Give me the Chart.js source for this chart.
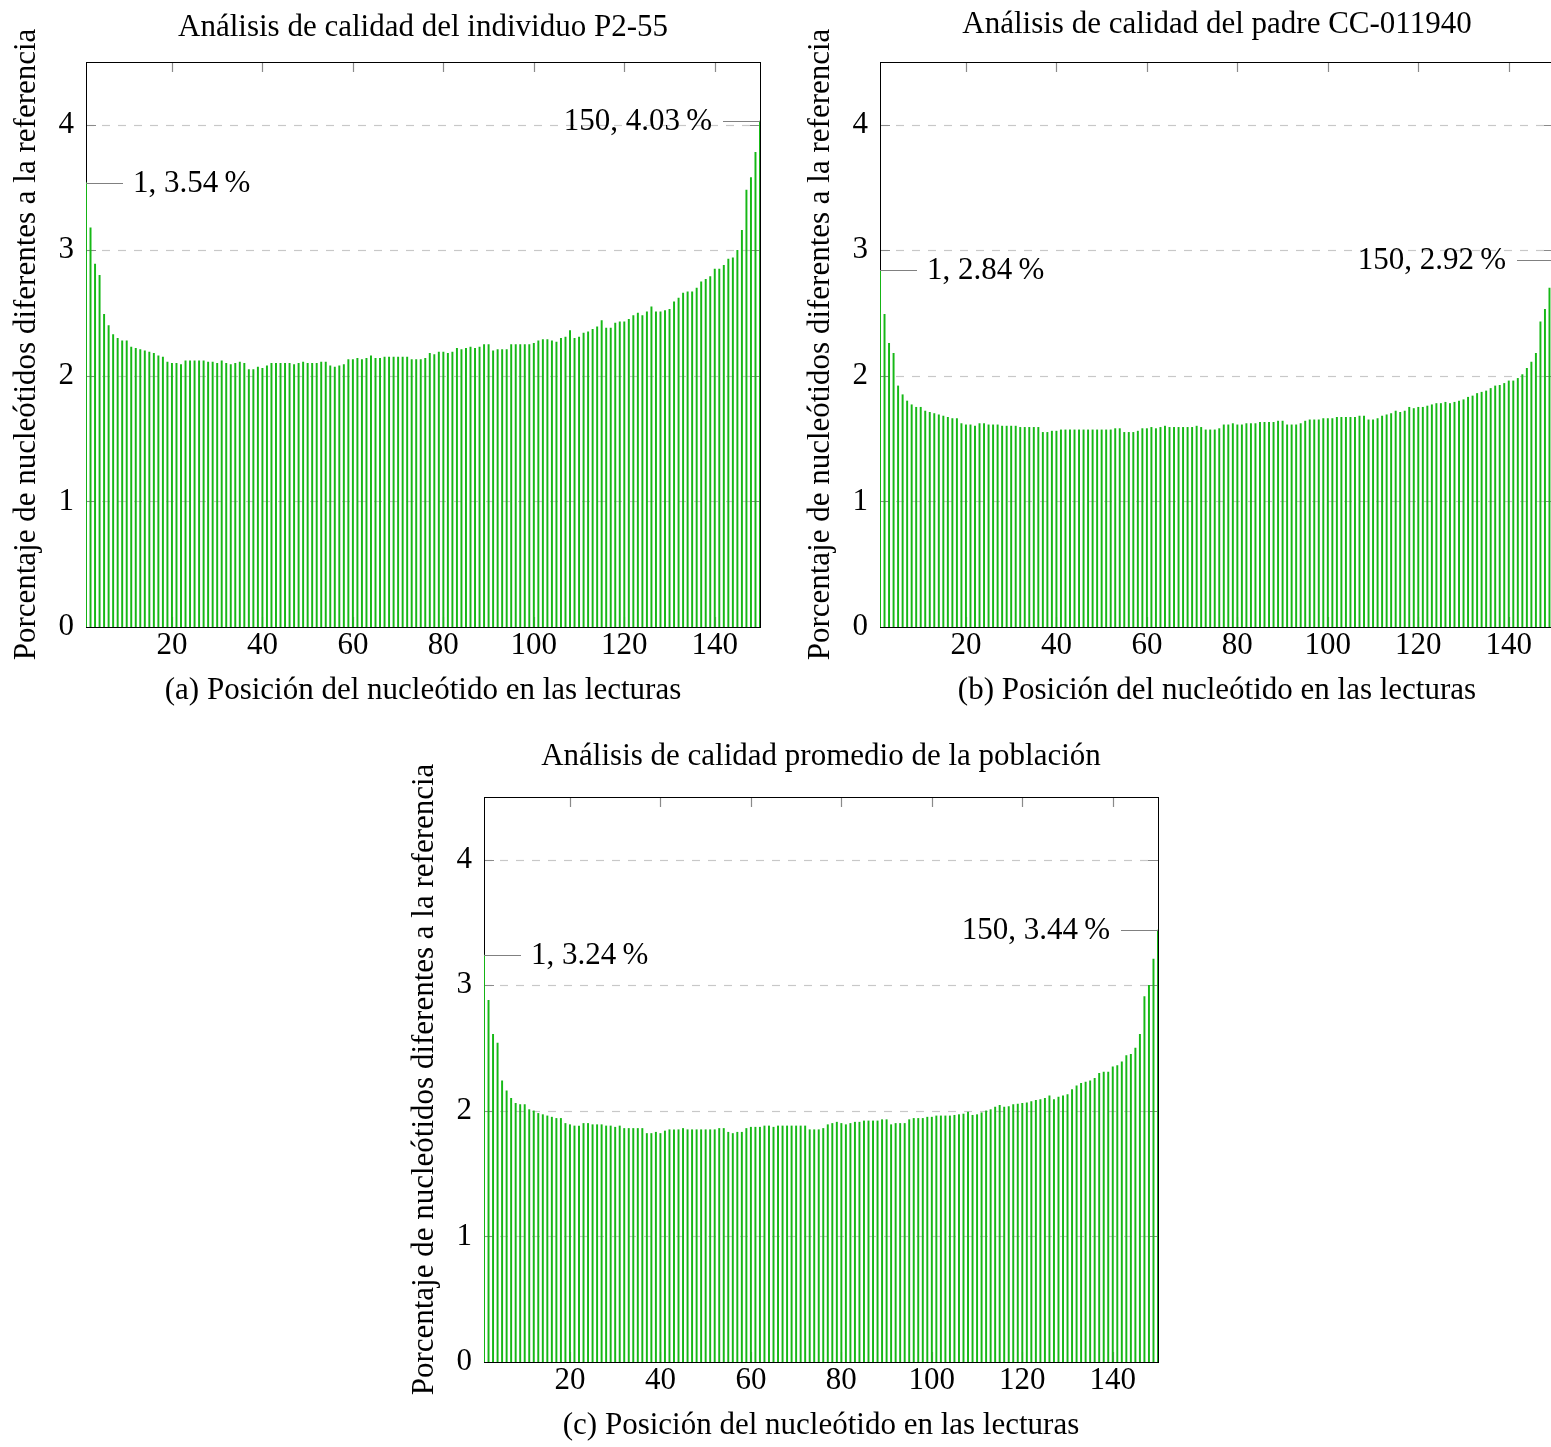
<!DOCTYPE html>
<html>
<head>
  <meta charset="utf-8">
  <title>Análisis de calidad</title>
  <script src="https://cdn.jsdelivr.net/npm/chart.js"></script>
  <style>
    html, body { margin: 0; padding: 0; background: #fff; overflow: hidden; }
    #page { position: relative; width: 1551px; height: 1447px; overflow: hidden; }
    #page canvas { position: absolute; }
  </style>
</head>
<body>
<div id="page">
  <canvas id="chartA" width="780" height="712" style="left:0px;top:0px"></canvas>
  <canvas id="chartB" width="780" height="712" style="left:794px;top:0px"></canvas>
  <canvas id="chartC" width="780" height="712" style="left:398px;top:735px"></canvas>
</div>

<script>
// positions 1..150 along the reads
const POSITIONS = Array.from({ length: 150 }, (_, i) => i + 1);
const X_TICKS = [20, 40, 60, 80, 100, 120, 140];
const Y_TICKS = [0, 1, 2, 3, 4];

// individuo P2-55
const valuesA = [
  3.54, 3.18, 2.89, 2.80, 2.49, 2.40, 2.33, 2.30, 2.28, 2.28,
  2.23, 2.22, 2.21, 2.20, 2.19, 2.18, 2.16, 2.15, 2.11, 2.10,
  2.10, 2.09, 2.12, 2.12, 2.12, 2.12, 2.12, 2.11, 2.11, 2.10,
  2.12, 2.10, 2.09, 2.10, 2.11, 2.10, 2.05, 2.05, 2.07, 2.06,
  2.08, 2.10, 2.10, 2.10, 2.10, 2.10, 2.09, 2.10, 2.11, 2.10,
  2.10, 2.10, 2.11, 2.11, 2.08, 2.07, 2.08, 2.09, 2.13, 2.13,
  2.14, 2.13, 2.14, 2.16, 2.14, 2.14, 2.15, 2.15, 2.15, 2.15,
  2.15, 2.15, 2.13, 2.13, 2.13, 2.14, 2.18, 2.17, 2.19, 2.19,
  2.18, 2.19, 2.22, 2.21, 2.22, 2.23, 2.22, 2.23, 2.25, 2.25,
  2.20, 2.21, 2.21, 2.21, 2.25, 2.25, 2.25, 2.25, 2.25, 2.26,
  2.28, 2.29, 2.29, 2.28, 2.27, 2.30, 2.31, 2.36, 2.30, 2.31,
  2.34, 2.35, 2.37, 2.39, 2.44, 2.38, 2.38, 2.42, 2.43, 2.43,
  2.45, 2.48, 2.50, 2.48, 2.51, 2.55, 2.51, 2.51, 2.52, 2.53,
  2.59, 2.62, 2.66, 2.67, 2.67, 2.70, 2.75, 2.77, 2.79, 2.85,
  2.85, 2.88, 2.93, 2.94, 3.00, 3.16, 3.48, 3.58, 3.78, 4.03
];

// padre CC-011940
const valuesB = [
  2.84, 2.49, 2.26, 2.18, 1.92, 1.85, 1.80, 1.77, 1.75, 1.75,
  1.72, 1.71, 1.70, 1.69, 1.68, 1.67, 1.66, 1.66, 1.62, 1.61,
  1.61, 1.60, 1.62, 1.62, 1.61, 1.61, 1.61, 1.60, 1.60, 1.60,
  1.60, 1.59, 1.59, 1.59, 1.59, 1.59, 1.55, 1.55, 1.56, 1.56,
  1.57, 1.57, 1.57, 1.57, 1.57, 1.57, 1.57, 1.57, 1.57, 1.57,
  1.57, 1.57, 1.58, 1.58, 1.55, 1.55, 1.55, 1.56, 1.58, 1.58,
  1.59, 1.58, 1.59, 1.60, 1.59, 1.59, 1.59, 1.59, 1.59, 1.59,
  1.60, 1.59, 1.57, 1.57, 1.57, 1.58, 1.61, 1.61, 1.62, 1.61,
  1.61, 1.62, 1.62, 1.62, 1.63, 1.63, 1.63, 1.63, 1.64, 1.64,
  1.61, 1.61, 1.61, 1.62, 1.64, 1.65, 1.65, 1.65, 1.66, 1.66,
  1.66, 1.67, 1.67, 1.67, 1.67, 1.67, 1.68, 1.68, 1.65, 1.65,
  1.66, 1.68, 1.69, 1.70, 1.72, 1.71, 1.72, 1.75, 1.74, 1.75,
  1.75, 1.76, 1.77, 1.78, 1.78, 1.79, 1.78, 1.79, 1.80, 1.81,
  1.83, 1.84, 1.86, 1.87, 1.88, 1.90, 1.92, 1.925, 1.94, 1.96,
  1.96, 1.98, 2.01, 2.06, 2.11, 2.18, 2.43, 2.53, 2.70, 2.92
];

// promedio de la población
const valuesC = [
  3.24, 2.88, 2.61, 2.54, 2.24, 2.16, 2.10, 2.06, 2.05, 2.05,
  2.01, 2.00, 1.98, 1.97, 1.96, 1.95, 1.94, 1.94, 1.90, 1.89,
  1.88, 1.88, 1.90, 1.90, 1.89, 1.89, 1.89, 1.88, 1.88, 1.87,
  1.88, 1.86, 1.86, 1.86, 1.86, 1.86, 1.82, 1.82, 1.83, 1.82,
  1.84, 1.85, 1.85, 1.85, 1.86, 1.85, 1.85, 1.85, 1.85, 1.85,
  1.85, 1.85, 1.86, 1.86, 1.83, 1.82, 1.83, 1.83, 1.86, 1.87,
  1.87, 1.87, 1.88, 1.88, 1.87, 1.88, 1.88, 1.88, 1.88, 1.88,
  1.88, 1.88, 1.85, 1.85, 1.85, 1.86, 1.89, 1.90, 1.91, 1.90,
  1.89, 1.90, 1.91, 1.91, 1.92, 1.92, 1.92, 1.92, 1.93, 1.93,
  1.89, 1.90, 1.90, 1.90, 1.93, 1.94, 1.94, 1.94, 1.95, 1.95,
  1.96, 1.96, 1.96, 1.96, 1.965, 1.97, 1.975, 1.99, 1.965, 1.97,
  1.985, 2.00, 2.01, 2.03, 2.045, 2.03, 2.035, 2.05, 2.055, 2.06,
  2.065, 2.075, 2.085, 2.09, 2.10, 2.12, 2.09, 2.11, 2.12, 2.13,
  2.17, 2.20, 2.22, 2.23, 2.24, 2.26, 2.30, 2.31, 2.31, 2.35,
  2.36, 2.39, 2.44, 2.45, 2.50, 2.61, 2.91, 3.00, 3.21, 3.44
];

const FONT = 'Liberation Serif, DejaVu Serif, serif';
const FONT_SIZE = 31;
const BAR_COLOR = '#16b816';
const GRID_COLOR = '#c8c8c8';
const TICK_COLOR = '#8a8a8a';
const PIN_COLOR = '#808080';
const Y_TITLE = 'Porcentaje de nucleótidos diferentes a la referencia';

function pinText(pos, v) {
  return pos + ', ' + v.toFixed(2) + '\u2009%';
}

// pgfplots-like frame: dashed grid, inward ticks, box, pins and title
const axisDecor = {
  id: 'axisDecor',
  beforeDatasetsDraw(chart) {
    const { ctx, chartArea: a, scales: { x, y } } = chart;
    ctx.save();
    ctx.lineWidth = 1.2;
    ctx.strokeStyle = GRID_COLOR;
    ctx.setLineDash([8, 8]);
    Y_TICKS.forEach(v => {
      if (v === 0) return;
      const py = Math.round(y.getPixelForValue(v)) + 0.5;
      ctx.beginPath();
      ctx.moveTo(a.left, py);
      ctx.lineTo(a.right, py);
      ctx.stroke();
    });
    ctx.setLineDash([]);
    ctx.strokeStyle = TICK_COLOR;
    X_TICKS.forEach(v => {
      const px = Math.round(x.getPixelForValue(v)) + 0.5;
      ctx.beginPath();
      ctx.moveTo(px, a.top); ctx.lineTo(px, a.top + 10);
      ctx.moveTo(px, a.bottom); ctx.lineTo(px, a.bottom - 10);
      ctx.stroke();
    });
    Y_TICKS.forEach(v => {
      const py = Math.round(y.getPixelForValue(v)) + 0.5;
      ctx.beginPath();
      ctx.moveTo(a.left, py); ctx.lineTo(a.left + 10, py);
      ctx.moveTo(a.right, py); ctx.lineTo(a.right - 10, py);
      ctx.stroke();
    });
    // box
    ctx.strokeStyle = '#000';
    ctx.lineWidth = 1;
    ctx.strokeRect(Math.round(a.left) + 0.5, Math.round(a.top) + 0.5,
      Math.round(a.right - a.left), Math.round(a.bottom - a.top));
    ctx.restore();
  },
  afterDatasetsDraw(chart, args, opts) {
    const { ctx, chartArea: a, scales: { y } } = chart;
    const vals = chart.data.datasets[0].data;
    const first = vals[0], last = vals[vals.length - 1];
    ctx.save();
    ctx.font = FONT_SIZE + 'px ' + FONT;
    ctx.fillStyle = '#000';
    ctx.lineWidth = 1;
    ctx.textBaseline = 'middle';
    // left pin
    const y1 = Math.round(y.getPixelForValue(first.y)) + 0.5;
    ctx.strokeStyle = PIN_COLOR;
    ctx.beginPath(); ctx.moveTo(a.left, y1); ctx.lineTo(a.left + 37, y1); ctx.stroke();
    ctx.textAlign = 'left';
    ctx.fillText(pinText(first.x, first.y), a.left + 47, y1);
    // right pin
    const y2 = Math.round(y.getPixelForValue(last.y)) + 0.5;
    ctx.beginPath(); ctx.moveTo(a.right - 37, y2); ctx.lineTo(a.right, y2); ctx.stroke();
    ctx.textAlign = 'right';
    ctx.fillText(pinText(last.x, last.y), a.right - 48, y2);

    // title above the box
    ctx.textAlign = 'center';
    ctx.textBaseline = 'alphabetic';
    ctx.fillText(opts.title, (a.left + a.right) / 2, a.top - opts.gap);
    ctx.restore();
  }
};

function makeChart(id, values, title, xTitle, gap) {
  const pts = POSITIONS.map((p, i) => ({ x: p, y: values[i] }));
  const font = { family: FONT, size: FONT_SIZE };
  return new Chart(document.getElementById(id), {
    type: 'bar',
    data: {
      datasets: [{
        data: pts,
        backgroundColor: BAR_COLOR,
        borderWidth: 0,
        barThickness: 1.3
      }]
    },
    options: {
      responsive: false,
      animation: false,
      layout: { padding: { top: 62, right: 20, left: 0, bottom: 0 } },
      plugins: {
        legend: { display: false },
        tooltip: { enabled: false },
        axisDecor: { title: title, gap: gap }
      },
      scales: {
        x: {
          type: 'linear',
          min: 1,
          max: 150,
          offset: false,
          grid: { display: false, drawTicks: false },
          border: { display: false },
          afterBuildTicks: s => { s.ticks = X_TICKS.map(v => ({ value: v })); },
          afterFit: s => { s.height = 85; },
          ticks: { font: font, color: '#000', padding: 0, maxRotation: 0, autoSkip: false },
          title: { display: true, text: xTitle, font: font, color: '#000', padding: { top: 0, bottom: 3 } }
        },
        y: {
          min: 0,
          max: 4.5,
          grid: { display: false, drawTicks: false },
          border: { display: false },
          afterBuildTicks: s => { s.ticks = Y_TICKS.map(v => ({ value: v })); },
          afterFit: s => { s.width = 86; },
          ticks: { font: font, color: '#000', padding: 12 },
          title: { display: true, text: Y_TITLE, font: font, color: '#000', padding: { top: 8, bottom: 0 } }
        }
      }
    },
    plugins: [axisDecor]
  });
}

makeChart('chartA', valuesA, 'Análisis de calidad del individuo P2-55',
  '(a) Posición del nucleótido en las lecturas', 26);
makeChart('chartB', valuesB, 'Análisis de calidad del padre CC-011940',
  '(b) Posición del nucleótido en las lecturas', 29);
makeChart('chartC', valuesC, 'Análisis de calidad promedio de la población',
  '(c) Posición del nucleótido en las lecturas', 32);
</script>
</body>
</html>
